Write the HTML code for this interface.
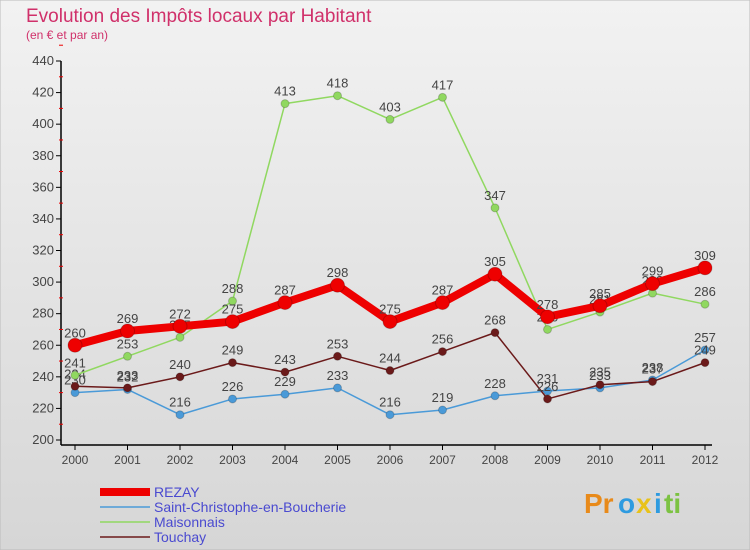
<!DOCTYPE html>
<html><head><meta charset="utf-8"><style>
body{margin:0;width:750px;height:550px;overflow:hidden;font-family:"Liberation Sans",sans-serif}
svg{display:block}
</style></head><body>
<svg id="c" width="750" height="550" xmlns="http://www.w3.org/2000/svg">
<defs><linearGradient id="bg" x1="0" y1="0" x2="0" y2="1"><stop offset="0" stop-color="#f2f2f2"/><stop offset="1" stop-color="#d6d6d6"/></linearGradient></defs>
<rect width="750" height="550" fill="url(#bg)" stroke="#bbb"/>
<text x="26" y="22" font-size="19" fill="#d0306a">Evolution des Impôts locaux par Habitant</text>
<text x="26" y="39" font-size="12" fill="#d0306a">(en € et par an)</text>
<g id="axes"></g><g id="series"></g>
<g font-size="28" font-weight="bold">
<text x="584" y="513" fill="#e88a1a">Pr</text><text x="618" y="513" fill="#2e9be0">o</text><text x="636" y="513" fill="#e8c21a">x</text><text x="654" y="513" fill="#2e9be0">i</text><text x="664" y="513" fill="#7cc242">ti</text>
</g>
</svg>
<script>
const years=["2000","2001","2002","2003","2004","2005","2006","2007","2008","2009","2010","2011","2012"];
const yTicks=[200,220,240,260,280,300,320,340,360,380,400,420,440];
const rezay=[260,269,272,275,287,298,275,287,305,278,285,299,309];
const stChristophe=[230,232,216,226,229,233,216,219,228,231,233,238,257];
const maisonnais=[241,253,265,288,413,418,403,417,347,270,281,293,286];
const touchay=[234,233,240,249,243,253,244,256,268,226,235,237,249];
const NS="http://www.w3.org/2000/svg";
const X=i=>75+i*52.5, Y=v=>440-(v-200)*(379/240);
function mk(t,a,p){const e=document.createElementNS(NS,t);for(const k in a)e.setAttribute(k,a[k]);p.appendChild(e);return e;}
const ax=document.getElementById('axes');
let l=mk('line',{x1:61,y1:Y(440),x2:61,y2:445,stroke:'#000','stroke-width':1.5},ax);


l=mk('line',{x1:61,y1:445,x2:712,y2:445,stroke:'#000','stroke-width':1.5},ax);


yTicks.forEach(v=>{
 mk('line',{x1:56,y1:Y(v),x2:61,y2:Y(v),stroke:'#000'},ax);
 mk('line',{x1:59,y1:Y(v+10),x2:63,y2:Y(v+10),stroke:'#e00'},ax);
 const t=mk('text',{x:54,y:Y(v)+4,'font-size':13,'text-anchor':'end',fill:'#444'},ax);t.textContent=v;
 
 
});
years.forEach((y,i)=>{
 mk('line',{x1:X(i),y1:445,x2:X(i),y2:450,stroke:'#000'},ax);
 const t=mk('text',{x:X(i),y:464,'font-size':12,'text-anchor':'middle',fill:'#444'},ax);t.textContent=y;
 
 
});
const sg=document.getElementById('series');
function series(data,color,w,r,name,order){
 const g=mk('g',{},sg);
 
 
 mk('polyline',{points:data.map((v,i)=>X(i)+','+Y(v)).join(' '),fill:'none',stroke:color,'stroke-width':w,'stroke-linejoin':'round'},g);
 data.forEach((v,i)=>{
  const c=mk('circle',{cx:X(i),cy:Y(v),r:r,fill:color,stroke:'rgba(0,0,0,0.2)'},g);
  
  
  const t=mk('text',{x:X(i),y:Y(v)-8,'font-size':13,'text-anchor':'middle',fill:'#444'},g);t.textContent=v;
  
  
 });
 const ly=492+order*15;
 mk('line',{x1:100,y1:ly,x2:150,y2:ly,stroke:color,'stroke-width':Math.min(w,8)},g);
 const lt=mk('text',{x:154,y:ly+5,'font-size':14,fill:'#4a4ad0'},g);lt.textContent=name;
 
 
}
series(stChristophe,'#4a9ad8',1.5,4,'Saint-Christophe-en-Boucherie',1);
series(touchay,'#6b1a1a',1.5,4,'Touchay',3);
series(maisonnais,'#90d860',1.5,4,'Maisonnais',2);
series(rezay,'#ee0000',8,7,'REZAY',0);
</script>
</body></html>
